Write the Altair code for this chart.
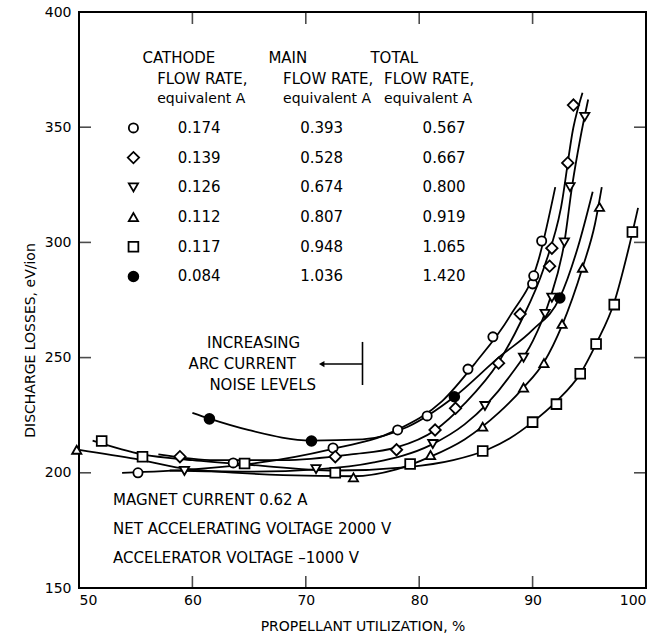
import altair as alt
import pandas as pd

# ---------------- data ----------------
# measured points (propellant utilization %, discharge losses eV/ion)
circ_x = [55.2, 63.6, 72.4, 78.1, 80.7, 84.3, 86.5, 90.0, 90.1, 90.8]
circ_y = [200.0, 204.3, 210.8, 218.6, 224.7, 245.0, 259.0, 282.0, 285.5, 300.6]

diam_x = [58.9, 72.6, 78.0, 81.4, 83.2, 87.0, 88.9, 91.5, 91.7, 93.1, 93.6]
diam_y = [207.0, 207.0, 210.0, 218.6, 228.0, 247.6, 268.9, 289.7, 297.5, 334.5, 359.6]

tdn_x = [59.3, 70.9, 81.2, 85.8, 89.2, 91.1, 91.7, 92.8, 93.3, 94.6]
tdn_y = [200.8, 201.6, 212.5, 229.0, 250.0, 269.0, 276.0, 300.0, 324.0, 354.5]

tup_x = [49.8, 74.2, 81.0, 85.6, 89.2, 91.0, 92.6, 94.4, 95.9]
tup_y = [210.0, 198.0, 207.7, 220.0, 237.0, 247.6, 264.6, 289.0, 315.4]

sq_x = [52.0, 55.6, 64.6, 72.6, 79.2, 85.6, 90.0, 92.1, 94.2, 95.6, 97.2, 98.8]
sq_y = [213.8, 207.0, 204.0, 200.0, 203.8, 209.5, 222.0, 229.8, 243.0, 255.9, 273.0, 304.5]

fill_x = [61.5, 70.5, 83.1, 92.4]
fill_y = [223.4, 213.8, 233.0, 275.9]

# faired curves as drawn in the picture
c_circ_x = [53.8, 60, 66, 72, 78, 82, 85, 88, 90.5, 92.0]
c_circ_y = [200, 201.5, 204.5, 210, 218.5, 231, 248, 268, 292, 324]
c_diam_x = [57, 62, 68, 74, 78, 81.4, 84, 87, 89, 91, 92.5, 93.6, 94.4]
c_diam_y = [208, 205.5, 205.5, 208, 211, 218.5, 230, 248, 266, 289, 315, 350, 365]
c_tdn_x = [58, 65, 71, 76, 81, 84, 86, 88, 90, 91.5, 92.8, 93.5, 94.2, 94.9]
c_tdn_y = [201, 200.5, 201.5, 204.5, 212, 221, 230, 242, 257, 275, 300, 325, 345, 362]
c_tup_x = [50, 55, 59, 64, 68, 74.2, 78, 81, 84, 87, 89.2, 91, 92.6, 94.4, 95.5, 96.1]
c_tup_y = [210, 206, 202, 200, 199, 198.5, 201.5, 207, 214.5, 226, 237, 248, 264, 289, 308, 324]
c_sq_x = [51.2, 55.6, 60, 65, 72.6, 79, 83, 86, 88, 90, 92.1, 94.2, 95.6, 97.2, 98.5, 99.3]
c_sq_y = [214, 208, 205.5, 203.5, 201, 202.5, 205.5, 210, 215, 222, 231, 243, 256, 274, 298, 315]
c_fill_x = [60, 61.5, 65, 70.5, 75, 79, 83.1, 87, 90, 92.4, 94, 95.3]
c_fill_y = [226, 223.5, 218.5, 214, 214.5, 220, 233, 250, 262, 276, 298, 322]

# legend table
series_keys = ["circ", "diam", "tdn", "tup", "sq", "fill"]
cathode = ["0.174", "0.139", "0.126", "0.112", "0.117", "0.084"]
main = ["0.393", "0.528", "0.674", "0.807", "0.948", "1.036"]
total = ["0.567", "0.667", "0.800", "0.919", "1.065", "1.420"]

x_ticks = [50, 60, 70, 80, 90, 100]
y_ticks = [150, 200, 250, 300, 350, 400]
inner_x_ticks = [60, 70, 80, 90]
inner_y_ticks = [200, 250, 300, 350]

# ---------------- build tables ----------------
shape_of = {"circ": "circle", "diam": "diamond", "tdn": "triangle-down",
            "tup": "triangle-up", "sq": "square", "fill": "circle"}
size_of = {"circ": 85, "diam": 130, "tdn": 85, "tup": 85, "sq": 95, "fill": 95}
pts = {"circ": (circ_x, circ_y), "diam": (diam_x, diam_y), "tdn": (tdn_x, tdn_y),
       "tup": (tup_x, tup_y), "sq": (sq_x, sq_y), "fill": (fill_x, fill_y)}
crv = {"circ": (c_circ_x, c_circ_y), "diam": (c_diam_x, c_diam_y), "tdn": (c_tdn_x, c_tdn_y),
       "tup": (c_tup_x, c_tup_y), "sq": (c_sq_x, c_sq_y), "fill": (c_fill_x, c_fill_y)}

pt_rows, cv_rows = [], []
for k in series_keys:
    for x, y in zip(*pts[k]):
        pt_rows.append({"s": k, "x": x, "y": y})
    for x, y in zip(*crv[k]):
        cv_rows.append({"s": k, "x": x, "y": y})
pdf = pd.DataFrame(pt_rows)
cdf = pd.DataFrame(cv_rows)

W, H = 567, 576
FONT = "DejaVu Sans"
xs = alt.Scale(domain=[50, 100], nice=False, zero=False)
ys = alt.Scale(domain=[150, 400], nice=False, zero=False)

X = alt.X("x:Q", scale=xs, axis=alt.Axis(values=x_ticks, ticks=False, domain=False, grid=False,
                                          title="PROPELLANT UTILIZATION, %", labelPadding=5,
                                          titlePadding=12))
Y = alt.Y("y:Q", scale=ys, axis=alt.Axis(values=y_ticks, ticks=False, domain=False, grid=False,
                                          title="DISCHARGE LOSSES, eV/ion", labelPadding=8,
                                          titleX=-42, titleY=328))

curves = alt.Chart(cdf).mark_line(interpolate="monotone", color="black", strokeWidth=1.8).encode(
    x=X, y=Y, detail="s:N")

layers = [curves]
for k in series_keys:
    sub = pdf[pdf.s == k]
    filled = (k == "fill")
    layers.append(
        alt.Chart(sub).mark_point(shape=shape_of[k], size=size_of[k], filled=True,
                                  fill="black" if filled else "white",
                                  stroke="black", strokeWidth=1.8, opacity=1).encode(
            x=alt.X("x:Q", scale=xs), y=alt.Y("y:Q", scale=ys)))

# inward ticks on the four sides
tx = pd.DataFrame({"v": inner_x_ticks})
ty = pd.DataFrame({"v": inner_y_ticks})
for yv in [H - 6, 6]:
    layers.append(alt.Chart(tx).mark_tick(orient="vertical", size=12, thickness=1.6, color="black")
                  .encode(x=alt.X("v:Q", scale=xs), y=alt.value(yv)))
for xv in [6, W - 6]:
    layers.append(alt.Chart(ty).mark_tick(orient="horizontal", size=12, thickness=1.6, color="black")
                  .encode(y=alt.Y("v:Q", scale=ys), x=alt.value(xv)))

# legend table
leg_y0, leg_dy = 349.7, 12.9
leg = pd.DataFrame({"s": series_keys, "c": cathode, "m": main, "t": total})
leg["y"] = [leg_y0 - i * leg_dy for i in range(len(leg))]
for i, k in enumerate(series_keys):
    filled = (k == "fill")
    layers.append(
        alt.Chart(leg.iloc[[i]]).mark_point(shape=shape_of[k], size=size_of[k], filled=True,
                                            fill="black" if filled else "white",
                                            stroke="black", strokeWidth=1.8, opacity=1)
        .encode(x=alt.datum(54.8), y=alt.Y("y:Q", scale=ys)))
for col, xv in [("c", 58.7), ("m", 69.5), ("t", 80.3)]:
    layers.append(alt.Chart(leg).mark_text(align="left", baseline="middle", font=FONT, fontSize=15,
                                           color="black")
                  .encode(x=alt.datum(xv), y=alt.Y("y:Q", scale=ys), text=f"{col}:N"))

def txt(s, x, y, align="left", size=15):
    return alt.Chart(pd.DataFrame({"t": [s]})).mark_text(
        align=align, baseline="middle", font=FONT, fontSize=size, color="black").encode(
        x=alt.datum(x), y=alt.datum(y), text="t:N")

# headers
layers += [
    txt("CATHODE", 55.6, 380.0), txt("FLOW RATE,", 56.9, 370.9), txt("equivalent A", 56.9, 362.2, size=14),
    txt("MAIN", 66.7, 380.0), txt("FLOW RATE,", 68.0, 370.9), txt("equivalent A", 68.0, 362.2, size=14),
    txt("TOTAL", 75.7, 380.0), txt("FLOW RATE,", 76.9, 370.9), txt("equivalent A", 76.9, 362.2, size=14),
]
# notes
layers += [
    txt("MAGNET CURRENT 0.62 A", 53.0, 188.2),
    txt("NET ACCELERATING VOLTAGE 2000 V", 53.0, 175.6),
    txt("ACCELERATOR VOLTAGE \u20131000 V", 53.0, 163.0),
]
# arc current annotation
layers += [
    txt("INCREASING", 65.4, 256.3, align="center"),
    txt("ARC CURRENT", 64.4, 247.2, align="center"),
    txt("NOISE LEVELS", 66.2, 238.1, align="center"),
]
arrow = pd.DataFrame({"x1": [71.4], "x2": [75.0], "y1": [247.2]})
layers.append(alt.Chart(arrow).mark_rule(color="black", strokeWidth=1.6).encode(
    x=alt.X("x1:Q", scale=xs), x2="x2:Q", y=alt.Y("y1:Q", scale=ys)))
bar = pd.DataFrame({"x1": [75.0], "y1": [238.1], "y2": [256.8]})
layers.append(alt.Chart(bar).mark_rule(color="black", strokeWidth=1.6).encode(
    x=alt.X("x1:Q", scale=xs), y=alt.Y("y1:Q", scale=ys), y2="y2:Q"))
layers.append(alt.Chart(arrow).mark_point(shape="triangle-left", size=40, filled=True, color="black",
                                          opacity=1).encode(
    x=alt.X("x1:Q", scale=xs), y=alt.Y("y1:Q", scale=ys)))

chart = alt.layer(*layers).properties(
    width=W, height=H,
    background="white",
    autosize=alt.AutoSizeParams(type="none"),
    padding={"left": 79, "top": 12, "right": 9, "bottom": 54},
).configure_view(stroke="black", strokeWidth=2).configure_axis(
    labelFont=FONT, labelFontSize=14, labelColor="black", titleFont=FONT, titleFontSize=14,
    titleFontWeight="normal", titleColor="black"
)

chart.save("out.html", embed_options={"renderer": "svg", "actions": False})
